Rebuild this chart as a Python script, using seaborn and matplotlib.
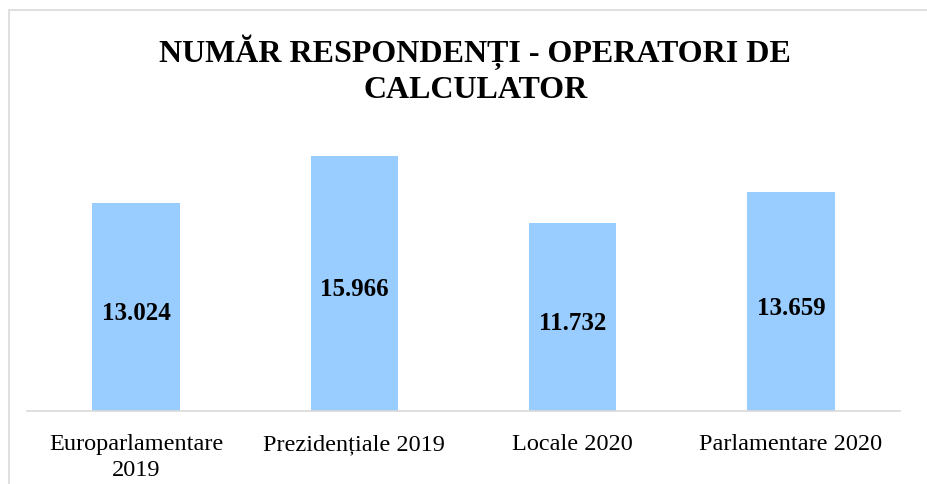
import matplotlib
matplotlib.use("Agg")
import matplotlib.pyplot as plt
import seaborn as sns
import pandas as pd
from matplotlib.patches import Rectangle

# data
categories = ["Europarlamentare\n2019", "Prezidențiale 2019", "Locale 2020", "Parlamentare 2020"]
respondents = [13024, 15966, 11732, 13659]

df = pd.DataFrame({"alegeri": categories, "respondenti": respondents})

sns.set_style("white")
plt.rcParams["font.family"] = ["Liberation Serif", "DejaVu Serif"]
plt.rcParams["text.color"] = "black"
plt.rcParams["xtick.color"] = "black"

fig = plt.figure(figsize=(9.28, 4.85), dpi=100)
ax = fig.add_axes([27 / 928, 1 - 412 / 485, 873 / 928, 288 / 485])

sns.barplot(data=df, x="alegeri", y="respondenti", color="#99CCFF",
            width=0.4, saturation=1, linewidth=0, ax=ax)

ax.set_ylim(0, 18000)
ax.set_xlabel("")
ax.set_ylabel("")
ax.set_yticks([])
ax.tick_params(axis="x", length=0, pad=16, labelsize=17.5)
for lbl in ax.get_xticklabels():
    lbl.set_linespacing(1.3)
for side in ["top", "left", "right"]:
    ax.spines[side].set_visible(False)
ax.spines["bottom"].set_color("#d9d9d9")
ax.spines["bottom"].set_linewidth(1.2)

# value labels in the middle of each bar
for i, v in enumerate(respondents):
    ax.annotate(f"{v:,}".replace(",", "."), (i, v / 2), xytext=(0, -2),
                textcoords="offset points", ha="center", va="center_baseline",
                fontsize=18, fontweight="bold")

fig.text(0.512, 0.856, "NUMĂR RESPONDENȚI - OPERATORI DE\nCALCULATOR",
         ha="center", va="center", fontsize=23, fontweight="bold",
         linespacing=1.25)

# chart area border
fig.patches.append(Rectangle((9 / 928, -0.1), 1.2, 1 - 11 / 485 + 0.1,
                             transform=fig.transFigure, fill=False,
                             edgecolor="#d9d9d9", linewidth=1.2))

fig.savefig("out.png", dpi=100)
